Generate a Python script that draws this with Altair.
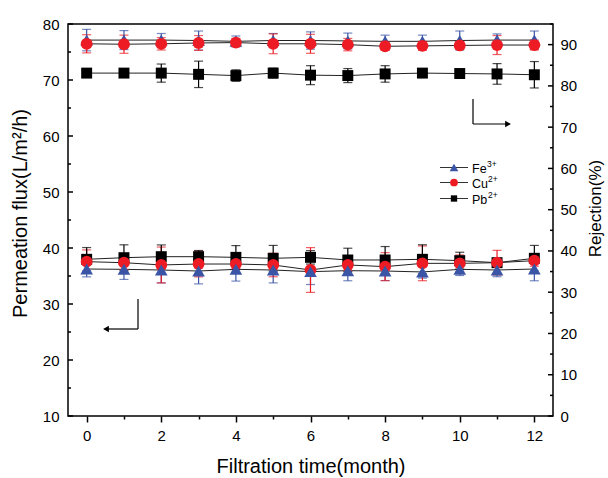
import altair as alt
import pandas as pd

months = list(range(13))
ions = ["Fe3+", "Cu2+", "Pb2+"]
ion_colors = ["#3A55A5", "#ED1C24", "#000000"]
ion_shapes = ["triangle-up", "circle", "square"]
ion_sizes = [160, 120, 95]

fe_flux = [36.25, 36.19, 36.07, 35.89, 36.19, 36.07, 35.78, 35.95, 35.89, 35.72, 36.19, 36.07, 36.25]
fe_flux_err = [1.4, 1.8, 2.3, 2.3, 2.1, 2.3, 2.3, 1.8, 1.7, 1.1, 1.1, 1.2, 2.1]
cu_flux = [37.56, 37.38, 36.97, 37.14, 37.14, 36.97, 36.07, 36.97, 36.67, 37.26, 37.26, 37.38, 37.74]
cu_flux_err = [2.1, 1.2, 3.2, 2.3, 1.0, 2.1, 4.0, 1.0, 2.5, 3.1, 1.5, 2.2, 1.0]
pb_flux = [37.98, 38.27, 38.45, 38.45, 38.33, 38.16, 38.33, 37.86, 37.86, 37.98, 37.74, 37.38, 38.16]
pb_flux_err = [2.1, 2.3, 2.1, 1.1, 2.1, 2.3, 1.2, 2.1, 2.4, 2.6, 1.5, 0.6, 2.3]

fe_rej = [91.1, 91.1, 91.1, 91.0, 90.8, 91.0, 91.0, 90.9, 90.8, 90.8, 91.0, 91.1, 91.1]
fe_rej_err = [2.6, 2.3, 1.6, 2.3, 1.3, 1.7, 2.1, 1.9, 1.5, 1.5, 2.3, 1.5, 2.2]
cu_rej = [90.2, 90.1, 90.2, 90.4, 90.5, 90.2, 90.2, 90.0, 89.6, 89.7, 89.8, 89.9, 89.9]
cu_rej_err = [2.2, 2.2, 1.5, 1.8, 1.0, 2.4, 2.3, 1.5, 1.0, 1.1, 0.9, 2.3, 1.2]
pb_rej = [83.1, 83.1, 83.1, 82.8, 82.5, 83.1, 82.6, 82.5, 82.9, 83.1, 83.0, 82.9, 82.7]
pb_rej_err = [0.3, 0.3, 2.2, 3.2, 1.4, 1.2, 2.3, 1.7, 2.0, 0.3, 0.3, 2.5, 3.2]

legend_names = ["Fe", "Cu", "Pb"]
legend_sups = ["3+", "2+", "2+"]

flux_ticks_major = list(range(10, 81, 10))
flux_ticks_minor = list(range(15, 80, 10))
rej_ticks_major = list(range(0, 91, 10))
rej_ticks_minor = list(range(5, 96, 10))

FONT = "Liberation Sans"
X_TITLE = "Filtration time(month)"
F_TITLE = "Permeation flux(L/m²/h)"
R_TITLE = "Rejection(%)"

series = [
    ("Fe3+", fe_flux, fe_flux_err, fe_rej, fe_rej_err, 2, 1),
    ("Cu2+", cu_flux, cu_flux_err, cu_rej, cu_rej_err, 1, 2),
    ("Pb2+", pb_flux, pb_flux_err, pb_rej, pb_rej_err, 0, 0),
]
rows = []
for ion, fl, fle, rj, rje, zf, zr in series:
    for m, a, b, c, d in zip(months, fl, fle, rj, rje):
        rows.append(dict(month=m, ion=ion, flux=a, flux_err=b, rej=c, rej_err=d, zf=zf, zr=zr))
df = pd.DataFrame(rows)

xscale = alt.Scale(domain=[-0.5, 12.5], nice=False, zero=False)
flux_scale = alt.Scale(domain=[10, 80], nice=False, zero=False)
rej_scale = alt.Scale(domain=[0, 95], nice=False, zero=False)
color_scale = alt.Scale(domain=ions, range=ion_colors)
shape_scale = alt.Scale(domain=ions, range=ion_shapes)
size_scale = alt.Scale(domain=ions, range=ion_sizes)

x_axis = alt.Axis(
    values=months,
    labelExpr="datum.value % 2 == 0 ? datum.label : ''",
    tickSize={"condition": {"test": "datum.value % 2 != 0", "value": 3}, "value": 6},
    tickColor="black", tickWidth=1.5,
    labelFontSize=15, labelPadding=6,
    title=X_TITLE, titleFontSize=20, titlePadding=13,
)
flux_axis = alt.Axis(
    values=flux_ticks_major, ticks=False, tickSize=0, labelPadding=9,
    labelFontSize=15, title=F_TITLE, titleFontSize=20, titlePadding=12, titleY=189,
)
rej_axis = alt.Axis(
    orient="right", values=rej_ticks_major, ticks=False, tickSize=0, labelPadding=7,
    labelFontSize=15, title=R_TITLE, titleFontSize=17, titlePadding=11, titleY=184,
    titleAngle=270, titleBaseline="top",
)


def X():
    return alt.X("month:Q", scale=xscale, axis=x_axis, title=X_TITLE)


def YF(field):
    return alt.Y(field, scale=flux_scale, axis=flux_axis, title=F_TITLE)


def YR(field):
    return alt.Y(field, scale=rej_scale, axis=rej_axis, title=R_TITLE)


base = alt.Chart(df)
col = alt.Color("ion:N", scale=color_scale, legend=None)
shp = alt.Shape("ion:N", scale=shape_scale, legend=None)
siz = alt.Size("ion:N", scale=size_scale, legend=None)

# ---------- Flux (left axis) ----------
flux_lines = base.mark_line(color="#222222", strokeWidth=1).encode(x=X(), y=YF("flux:Q"), detail="ion:N")
flux_err = base.transform_calculate(
    lo="datum.flux - datum.flux_err", hi="datum.flux + datum.flux_err"
).mark_errorbar(ticks={"size": 9}, thickness=1.2).encode(x=X(), y=YF("lo:Q"), y2="hi:Q", color=col)
flux_pts = base.mark_point(filled=True, opacity=1).encode(
    x=X(), y=YF("flux:Q"), color=col, shape=shp, size=siz, order=alt.Order("zf:Q")
)
flux_tmaj = alt.Chart(pd.DataFrame({"v": flux_ticks_major})).mark_rule(color="black", strokeWidth=1.5).encode(
    y=YF("v:Q"), x=alt.value(0), x2=alt.value(5)
)
flux_tmin = alt.Chart(pd.DataFrame({"v": flux_ticks_minor})).mark_rule(color="black", strokeWidth=1.5).encode(
    y=YF("v:Q"), x=alt.value(0), x2=alt.value(3)
)
flux_layer = alt.layer(flux_lines, flux_err, flux_pts, flux_tmaj, flux_tmin)

# ---------- Rejection (right axis) ----------
rej_lines = base.mark_line(color="#222222", strokeWidth=1).encode(x=X(), y=YR("rej:Q"), detail="ion:N")
rej_err = base.transform_calculate(
    lo="datum.rej - datum.rej_err", hi="datum.rej + datum.rej_err"
).mark_errorbar(ticks={"size": 9}, thickness=1.2).encode(x=X(), y=YR("lo:Q"), y2="hi:Q", color=col)
rej_pts = base.mark_point(filled=True, opacity=1).encode(
    x=X(), y=YR("rej:Q"), color=col, shape=shp, size=siz, order=alt.Order("zr:Q")
)
rej_tmaj = alt.Chart(pd.DataFrame({"v": rej_ticks_major})).mark_rule(color="black", strokeWidth=1.5).encode(
    y=YR("v:Q"), x=alt.value(485), x2=alt.value(480)
)
rej_tmin = alt.Chart(pd.DataFrame({"v": rej_ticks_minor})).mark_rule(color="black", strokeWidth=1.5).encode(
    y=YR("v:Q"), x=alt.value(485), x2=alt.value(482)
)
rej_layer = alt.layer(rej_lines, rej_err, rej_pts, rej_tmaj, rej_tmin)

# ---------- Annotations: arrows and legend ----------
one = alt.Chart(pd.DataFrame({"a": [0]}))
ann = []
ann.append(one.mark_rule(color="black", strokeWidth=1.2).encode(x=alt.value(70), y=alt.value(275), y2=alt.value(305)))
ann.append(one.mark_rule(color="black", strokeWidth=1.2).encode(x=alt.value(40), x2=alt.value(70), y=alt.value(305)))
ann.append(one.mark_point(shape="triangle-left", filled=True, color="black", opacity=1, size=45).encode(x=alt.value(38), y=alt.value(305)))
ann.append(one.mark_rule(color="black", strokeWidth=1.2).encode(x=alt.value(405), y=alt.value(75), y2=alt.value(100)))
ann.append(one.mark_rule(color="black", strokeWidth=1.2).encode(x=alt.value(405), x2=alt.value(438), y=alt.value(100)))
ann.append(one.mark_point(shape="triangle-right", filled=True, color="black", opacity=1, size=45).encode(x=alt.value(440), y=alt.value(100)))

leg_rows_y = [143.5, 158.5, 174.5]
leg_sizes = [75, 60, 40]
for i in range(3):
    yy = leg_rows_y[i]
    ann.append(one.mark_rule(color="#333333", strokeWidth=1).encode(x=alt.value(372), x2=alt.value(400), y=alt.value(yy)))
    ann.append(one.mark_point(shape=ion_shapes[i], filled=True, color=ion_colors[i], opacity=1, size=leg_sizes[i]).encode(
        x=alt.value(386), y=alt.value(yy)))
    ann.append(one.mark_text(text=legend_names[i], align="left", baseline="middle", font=FONT, fontSize=12.5, color="black").encode(
        x=alt.value(404), y=alt.value(yy + 1)))
    ann.append(one.mark_text(text=legend_sups[i], align="left", baseline="middle", font=FONT, fontSize=8.5, color="black").encode(
        x=alt.value(404 + (15 if i == 0 else 16)), y=alt.value(yy - 4)))

chart = alt.layer(flux_layer, rej_layer, *ann).resolve_scale(y="independent").properties(
    width=485, height=392,
    autosize=alt.AutoSizeParams(type="none"),
    padding={"left": 68, "top": 24, "right": 55, "bottom": 62},
).configure_view(stroke="black", strokeWidth=1.5).configure_axis(
    grid=False, domain=False, labelFont=FONT, titleFont=FONT, labelColor="black", titleColor="black",
    titleFontWeight="normal",
)

chart.save("out.html", embed_options={"renderer": "svg", "actions": False})
